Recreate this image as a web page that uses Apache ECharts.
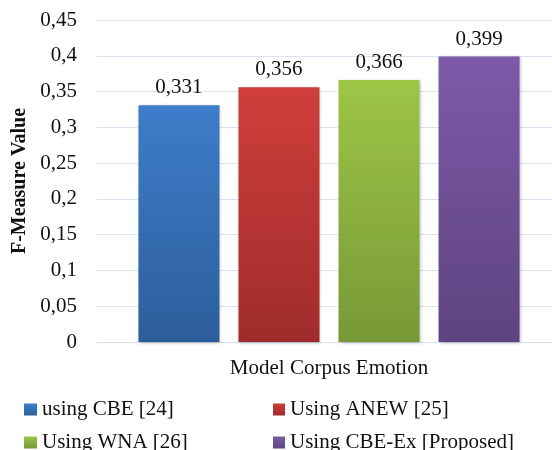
<!DOCTYPE html>
<html>
<head>
<meta charset="utf-8">
<script src="https://cdn.jsdelivr.net/npm/echarts@6/dist/echarts.min.js"></script>
<style>
html,body{margin:0;padding:0;background:#fff;}
#chart{width:552px;height:450px;}
</style>
</head>
<body>
<div id="chart"></div>
<script>
const categories = ['Model Corpus Emotion'];
const seriesNames = ['using CBE [24]', 'Using ANEW [25]', 'Using WNA [26]', 'Using CBE-Ex [Proposed]'];
const values = [0.331, 0.356, 0.366, 0.399];
const topColors = ['#3e7dca', '#cf3e3b', '#9dc546', '#7d5aa8'];
const bottomColors = ['#2d5e9b', '#9f2c2b', '#779937', '#5e4380'];
const yTicks = { min: 0, max: 0.45, interval: 0.05 };

const FONT = '"Liberation Serif", "Times New Roman", serif';
const chart = echarts.init(document.getElementById('chart'), null, { renderer: 'canvas' });

function grad(i) {
  return new echarts.graphic.LinearGradient(0, 0, 0, 1, [
    { offset: 0, color: topColors[i] },
    { offset: 1, color: bottomColors[i] }
  ]);
}
const fmt = v => String(+v.toFixed(3)).replace('.', ',');

const legendPos = [
  { left: 24, top: 399, w: 13 },
  { left: 273, top: 399, w: 12 },
  { left: 24, top: 432, w: 13 },
  { left: 273, top: 432, w: 12 }
];

const option = {
  animation: false,
  backgroundColor: '#ffffff',
  grid: { left: 97, top: 20, width: 464, height: 322, containLabel: false, outerBoundsMode: 'none' },
  legend: seriesNames.map((n, i) => ({
    data: [n],
    left: legendPos[i].left,
    top: legendPos[i].top,
    padding: 0,
    itemWidth: legendPos[i].w,
    itemHeight: 12,
    icon: 'rect',
    textStyle: { fontFamily: FONT, fontSize: 21, color: '#111', padding: [0, 0, 0, 0] }
  })),
  xAxis: {
    type: 'category',
    data: categories,
    axisLine: { lineStyle: { color: '#d3dfee', width: 1 } },
    axisTick: { show: false },
    axisLabel: { fontFamily: FONT, fontSize: 21, color: '#111', margin: 16 }
  },
  yAxis: {
    type: 'value',
    min: yTicks.min,
    max: yTicks.max,
    interval: yTicks.interval,
    name: 'F-Measure Value',
    nameLocation: 'middle',
    nameGap: 64,
    nameTextStyle: { fontFamily: FONT, fontSize: 20, fontWeight: 'bold', color: '#111' },
    axisLine: { show: false },
    axisTick: { show: false },
    axisLabel: { fontFamily: FONT, fontSize: 21, color: '#111', margin: 20, formatter: fmt },
    splitLine: { lineStyle: { color: '#d9e4f2', width: 1 } }
  },
  series: seriesNames.map((n, i) => ({
    name: n,
    type: 'bar',
    data: [values[i]],
    barWidth: 81,
    barGap: '23.5%',
    itemStyle: {
      color: grad(i),
      shadowColor: 'rgba(0,0,0,0.25)',
      shadowBlur: 3,
      shadowOffsetX: 1,
      shadowOffsetY: 1
    },
    label: {
      show: true,
      position: 'top',
      distance: 7,
      fontFamily: FONT,
      fontSize: 21,
      color: '#111',
      formatter: p => fmt(p.value)
    }
  }))
};
chart.setOption(option);
</script>
</body>
</html>
